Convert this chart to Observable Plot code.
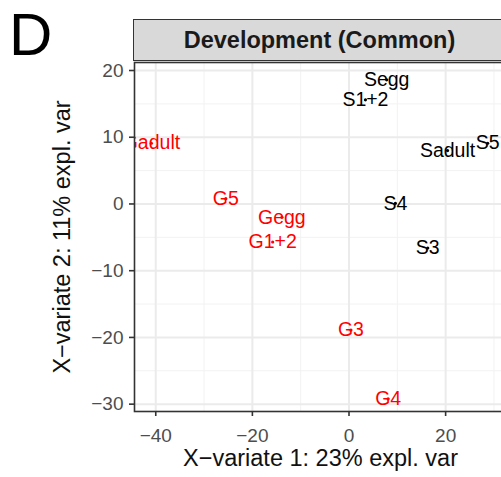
<!DOCTYPE html>
<html>
<head>
<meta charset="utf-8">
<script src="https://cdn.jsdelivr.net/npm/d3@7"></script>
<script src="https://cdn.jsdelivr.net/npm/@observablehq/plot@0.6"></script>
<style>
  html, body { margin: 0; padding: 0; background: #fff; overflow: hidden; }
  #wrap { position: relative; width: 501px; height: 477px; overflow: hidden; font-family: "Liberation Sans", Arial, sans-serif; }
  #panel-letter { position: absolute; left: 9px; top: 0px; font-size: 60px; line-height: normal; color: #000; }
  #strip { position: absolute; left: 133px; top: 19px; width: 371px; height: 40px; background: #D9D9D9;
           border: 1.5px solid #333; display: flex; align-items: center; justify-content: center;
           font-weight: bold; font-size: 23.5px; color: #1A1A1A; }
  #chart { position: absolute; left: 0; top: 0; width: 510px; }
  #chart svg { max-width: none !important; }
</style>
</head>
<body>
<div id="wrap">
  <div id="chart"></div>
  <div id="strip">Development (Common)</div>
  <div id="panel-letter">D</div>
</div>
<script>
// Sample scores on the first two X-variates
const samples = ["Segg", "S1+2", "S3", "S4", "S5", "Sadult", "Gegg", "G1+2", "G3", "G4", "G5", "Gadult"];
const groups  = ["S", "S", "S", "S", "S", "S", "G", "G", "G", "G", "G", "G"];
const variate1 = [7.8, 3.4, 16.3, 9.6, 28.7, 20.4, -13.9, -15.8, 0.4, 8.1, -25.5, -40.9];
const variate2 = [18.6, 15.6, -6.6, 0.1, 9.1, 8.0, -2.0, -5.7, -18.9, -29.2, 0.8, 9.1];

// Axis ticks (major) and minor grid positions
const xTicks = [-40, -20, 0, 20];
const yTicks = [-30, -20, -10, 0, 10, 20];
const xMinor = [-30, -10, 10, 30];
const yMinor = [-25, -15, -5, 5, 15];

const xTitle = "X\u2212variate 1: 23% expl. var";
const yTitle = "X\u2212variate 2: 11% expl. var";

const rows = samples.map((name, i) => ({name, group: groups[i], v1: variate1[i], v2: variate2[i]}));

const font = "'Liberation Sans', Arial, sans-serif";
const minus = d => d < 0 ? "\u2212" + Math.abs(d) : String(d);

const chart = Plot.plot({
  width: 510,
  height: 477,
  marginLeft: 134,
  marginRight: 4,
  marginTop: 62,
  marginBottom: 66,
  style: {fontFamily: font, background: "#fff", overflow: "visible", maxWidth: "none"},
  x: {domain: [-44.4, 32.6], tickFormat: minus},
  y: {domain: [-31.1, 21.2], tickFormat: minus},
  color: {domain: ["S", "G"], range: ["#000000", "#FF0000"]},
  marks: [
    Plot.gridX(xMinor, {stroke: "#F2F2F2", strokeOpacity: 1, strokeWidth: 1}),
    Plot.gridY(yMinor, {stroke: "#F2F2F2", strokeOpacity: 1, strokeWidth: 1}),
    Plot.gridX(xTicks, {stroke: "#EBEBEB", strokeOpacity: 1, strokeWidth: 2}),
    Plot.gridY(yTicks, {stroke: "#EBEBEB", strokeOpacity: 1, strokeWidth: 2}),
    Plot.dot(rows, {x: "v1", y: "v2", fill: "group", r: 1.6, stroke: null, clip: true}),
    Plot.text(rows, {x: "v1", y: "v2", text: "name", fill: "group", fontSize: 19.5, clip: true}),
    Plot.frame({stroke: "#333", strokeWidth: 1.6}),
    Plot.axisX({ticks: xTicks, tickSize: 5, tickPadding: 12, stroke: "#333", strokeWidth: 1.6,
                fill: "#4D4D4D", fontSize: 19, label: null}),
    Plot.axisY({ticks: yTicks, tickSize: 5, tickPadding: 6, stroke: "#333", strokeWidth: 1.6,
                fill: "#4D4D4D", fontSize: 19, label: null}),
    Plot.text([xTitle], {frameAnchor: "bottom", textAnchor: "middle", lineAnchor: "middle",
                         dy: 47, fontSize: 23.5, fill: "#111"}),
    Plot.text([yTitle], {frameAnchor: "left", textAnchor: "middle", lineAnchor: "middle",
                         dx: -72, rotate: -90, fontSize: 23.5, fill: "#111"})
  ]
});

document.getElementById("chart").appendChild(chart);
</script>
</body>
</html>
